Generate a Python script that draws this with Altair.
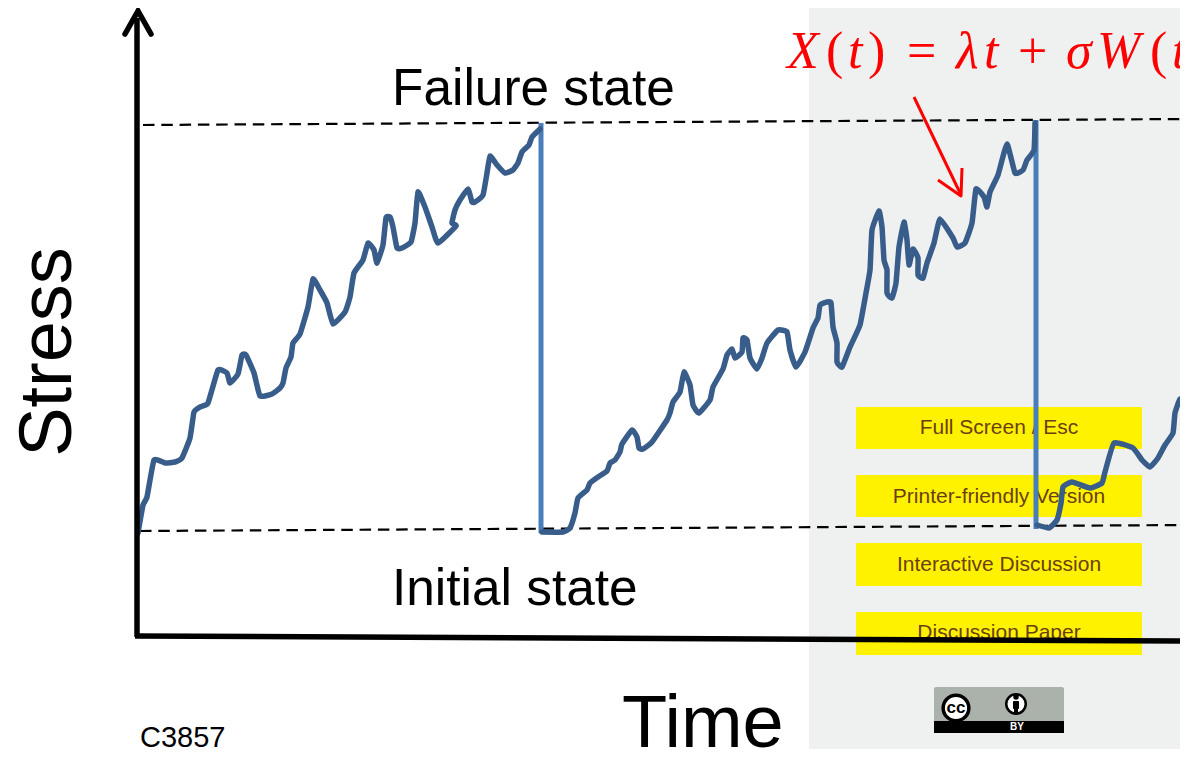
import altair as alt
import pandas as pd

# Readings, in the picture's own time / stress units (1188 x 757 frame)
curve_1 = [(138,533),(143,505),(147,497),(154,460),(165,463),(175,462),(182,458),(190,438),(194,412),(200,407),(208,403),
 (218,370),(227,373),(230,383),(238,374),(242,355),(246,355),(254,373),(260,396),(272,394),(280,388),(283,383),(286,368),
 (291,357),(293,343),(300,334),(308,307),(313,279),(320,290),(327,303),(333,324),(345,312),(350,297),(354,273),(363,260),
 (368,243),(374,250),(377,263),(383,245),(386,218),(390,217),(393,227),(397,248),(402,248),(411,242),(415,223),(418,192),
 (425,207),(432,227),(438,243),(456,226),(452,223),(455,210),(460,200),(468,189),(472,202),(475,202),(483,195),(487,173),
 (490,156),(497,165),(505,173),(513,170),(518,163),(522,152),(529,145),(532,137),(540,129)]
curve_2 = [(542,532),(563,532),(570,528),(575,513),(578,498),(587,490),(590,483),(598,477),(607,471),(610,463),(615,460),
 (620,452),(622,444),(632,430),(637,437),(639,448),(643,449),(652,442),(667,420),(670,413),(673,402),(680,392),(684,372),
 (690,385),(693,405),(699,413),(710,400),(713,387),(723,369),(727,355),(732,349),(735,358),(742,352),(743,338),(747,340),
 (750,358),(757,369),(762,358),(767,343),(778,330),(787,332),(790,350),(796,367),(805,352),(813,328),(818,318),(820,305),
 (827,302),(831,303),(833,327),(837,343),(837,362),(842,367),(850,347),(860,325),(866,293),(870,270),(872,230),(879,211),
 (882,227),(884,260),(887,270),(887,293),(892,298),(896,283),(899,247),(904,222),(907,240),(909,265),(913,249),(918,258),
 (918,275),(923,278),(927,263),(934,243),(940,219),(953,238),(957,247),(965,243),(972,223),(976,189),(984,197),(987,207),
 (990,192),(998,175),(1007,144),(1015,173),(1023,170),(1027,160),(1034,150),(1035,123)]
curve_3 = [(1037,525),(1049,528),(1057,520),(1061,503),(1063,487),(1072,482),(1090,488),(1102,483),(1105,472),(1114,443),
 (1133,448),(1142,460),(1150,467),(1158,458),(1165,445),(1173,433),(1175,413),(1180,399),(1188,397)]
resets = [[(541,123),(541,533)], [(1036,120),(1036,529)]]
failure_line = [(143,125),(1188,119)]
initial_line = [(140,531),(1188,525)]
y_axis = [(137,637),(137,18)]
y_arrow = [(125,34),(138,11),(151,34)]
x_axis = [(135,636),(1188,641)]
red_shaft = [(914,97),(961,195)]
red_head = [(938,180),(961,196),(962,168)]

panel = [(809,1188,0,757)]
button_boxes = [(856,1142,407,449),(856,1142,475,517),(856,1142,543,586),(856,1142,612,655)]
button_texts = [("Full Screen / Esc",999,434),("Printer-friendly Version",999,503),("Interactive Discussion",999,571),("Discussion Paper",999,639)]
state_texts = [("Failure state",392,105),("Initial state",392,605)]
time_text = [("Time",622,747)]
stress_text = [("Stress",71,352)]
code_text = [("C3857",140,747)]
eq_italic = [("X",787,68),("t",848,68),("λ",956,68),("t",984,68),("σ",1066,68),("W",1097,68),("t",1172,68)]
eq_roman = [("(",826,68),(")",868,68),("=",907,68),("+",1018,68),("(",1150,68)]

badge_top = [(934,1064,687,722)]
badge_bottom = [(934,1064,721,733)]
cc_halo = [(956,708)]
by_circle = [(1016,704)]
by_head = [(1016,697)]
by_body = [(1013,1019,701,709)]
by_legs = [(1014,1018,708,713)]
cc_text = [("cc",956,713)]
by_text = [("BY",1017,730)]

X = alt.Scale(domain=[0,1188], range=[-8,1180])
Y = alt.Scale(domain=[0,757], range=[-8,749])

def path(points, color, width, dash=None, cap="round", join="round", curve="linear"):
    df = pd.DataFrame(points, columns=["t","s"]).assign(i=range(len(points)))
    kw = dict(color=color, strokeWidth=width, strokeCap=cap, strokeJoin=join, clip=False, interpolate=curve)
    if curve == "cardinal":
        kw["tension"] = 0.6
    if dash: kw["strokeDash"] = dash
    return alt.Chart(df).mark_line(**kw).encode(
        x=alt.X("t:Q", scale=X, axis=None), y=alt.Y("s:Q", scale=Y, axis=None), order="i:O")

def boxes(rows, color, radius=0):
    df = pd.DataFrame(rows, columns=["a","b","c","d"])
    return alt.Chart(df).mark_rect(color=color, cornerRadius=radius).encode(
        x=alt.X("a:Q", scale=X, axis=None), x2="b:Q",
        y=alt.Y("c:Q", scale=Y, axis=None), y2="d:Q")

def words(rows, size, color="#000000", font="Liberation Sans", align="left", **kw):
    df = pd.DataFrame(rows, columns=["w","t","s"])
    return alt.Chart(df).mark_text(fontSize=size, color=color, font=font, align=align, baseline="alphabetic", **kw).encode(
        x=alt.X("t:Q", scale=X, axis=None), y=alt.Y("s:Q", scale=Y, axis=None), text="w:N")

def dots(rows, size, fill, stroke=None, width=0):
    df = pd.DataFrame(rows, columns=["t","s"])
    kw = dict(shape="circle", size=size, fill=fill, opacity=1, filled=True, strokeWidth=width)
    if stroke: kw["stroke"] = stroke
    return alt.Chart(df).mark_point(**kw).encode(
        x=alt.X("t:Q", scale=X, axis=None), y=alt.Y("s:Q", scale=Y, axis=None))

CURVE = "#385D8A"
RESET = "#4A7EBB"
layers = [
    boxes(panel, "#EFF1F0"),
    boxes(button_boxes, "#FFF200", 1),
    words(button_texts, 21, "#6B3F10", align="center"),
    path(failure_line, "#000000", 2.2, [11.5,6.8], "butt"),
    path(initial_line, "#000000", 2.2, [11.5,6.8], "butt"),
    path(resets[0], RESET, 5, cap="butt"),
    path(resets[1], RESET, 5, cap="butt"),
    path(curve_1, CURVE, 5.5, curve="cardinal"),
    path(curve_2, CURVE, 5.5, curve="cardinal"),
    path(curve_3, CURVE, 5.5, curve="cardinal"),
    path(y_axis, "#000000", 5.5, cap="butt"),
    path(y_arrow, "#000000", 5.5, join="miter"),
    path(x_axis, "#000000", 5.5, cap="butt"),
    path(red_shaft, "#FF0000", 3, cap="butt"),
    path(red_head, "#FF0000", 3, cap="butt"),
    words(state_texts, 51.4),
    words(time_text, 74),
    words(stress_text, 74, align="center", angle=270),
    words(code_text, 29),
    words(eq_italic, 52, "#FF0000", font="Liberation Serif", fontStyle="italic"),
    words(eq_roman, 52, "#FF0000", font="Liberation Serif"),
    boxes(badge_top, "#AAB2AB", 2),
    boxes(badge_bottom, "#000000"),
    dots(cc_halo, 660, "#FFFFFF", "#000000", 3.5),
    dots(by_circle, 380, "#FFFFFF", "#000000", 2.5),
    dots(by_head, 30, "#000000"),
    boxes(by_body, "#000000", 1),
    boxes(by_legs, "#000000"),
    words(cc_text, 17, font="Liberation Sans", align="center", fontWeight="bold"),
    words(by_text, 10, "#FFFFFF", align="center", fontWeight="bold"),
]

chart = alt.layer(*layers).properties(
    width=1172, height=741, padding=0, background="white",
    autosize=alt.AutoSizeParams(type="none")
).configure_view(stroke=None)

chart.save("out.html", embed_options={"renderer": "svg", "actions": False})
